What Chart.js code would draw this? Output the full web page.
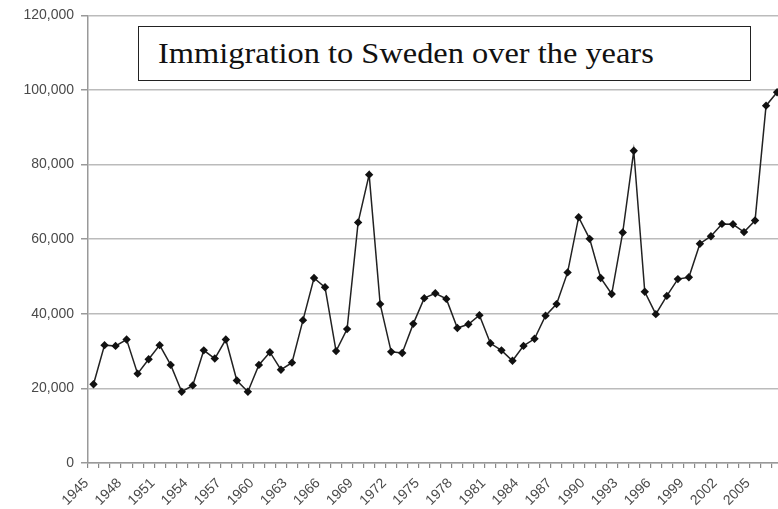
<!DOCTYPE html>
<html><head><meta charset="utf-8">
<script src="https://cdn.jsdelivr.net/npm/chart.js@4/dist/chart.umd.min.js"></script>
<style>
html,body{margin:0;padding:0;background:#fff;overflow:hidden;}
#wrap{position:relative;width:796px;height:509px;}
#c{display:block;}
#title{position:absolute;left:138px;top:26px;width:613px;height:55px;border:1.5px solid #222;background:#fff;font-family:"Liberation Serif","Times New Roman",serif;font-size:30px;line-height:52px;padding-left:19px;box-sizing:border-box;color:#111;white-space:nowrap;}
#title span{display:inline-block;transform:scaleX(1.08);transform-origin:left center;}
</style></head>
<body>
<div id="wrap"><canvas id="c" width="796" height="509" style="width:796px;height:509px"></canvas><div id="title"><span>Immigration to Sweden over the years</span></div></div>
<script>
const years = ['1945','1946','1947','1948','1949','1950','1951','1952','1953','1954','1955','1956','1957','1958','1959','1960','1961','1962','1963','1964','1965','1966','1967','1968','1969','1970','1971','1972','1973','1974','1975','1976','1977','1978','1979','1980','1981','1982','1983','1984','1985','1986','1987','1988','1989','1990','1991','1992','1993','1994','1995','1996','1997','1998','1999','2000','2001','2002','2003','2004','2005','2006','2007'];
const immigration = [21100,31600,31400,33100,23950,27800,31600,26300,19100,20800,30200,28000,33100,22100,19100,26300,29700,25000,26900,38300,49600,47100,30000,35900,64500,77300,42600,29800,29500,37300,44200,45500,44000,36200,37200,39600,32100,30200,27400,31400,33300,39500,42600,51100,65900,60100,49600,45300,61800,83700,45900,39900,44800,49300,49800,58800,60800,64100,64000,61900,65000,95800,99400];
const shownYearLabels = ['1945','1948','1951','1954','1957','1960','1963','1966','1969','1972','1975','1978','1981','1984','1987','1990','1993','1996','1999','2002','2005'];
const yTickValues = [0,20000,40000,60000,80000,100000,120000];

new Chart(document.getElementById('c'), {
  type: 'line',
  data: {
    labels: years,
    datasets: [{
      data: immigration,
      borderColor: '#222',
      borderWidth: 1.5,
      backgroundColor: '#111',
      pointStyle: 'rectRot',
      pointRadius: 4.2,
      pointBorderWidth: 0,
      pointBackgroundColor: '#111',
      tension: 0,
      fill: false
    }]
  },
  options: {
    responsive: false,
    animation: false,
    layout: { padding: { top: 15, right: 0, left: 0, bottom: 0 } },
    plugins: { legend: { display: false }, tooltip: { enabled: false } },
    scales: {
      x: {
        offset: true,
        grid: { drawOnChartArea: false, drawTicks: true, tickLength: 5, offset: true, color: '#888', lineWidth: 1.2 },
        border: { color: '#999', width: 1.5 },
        ticks: {
          autoSkip: false, minRotation: 45, maxRotation: 45,
          color: '#4a4a4a', padding: 7, labelOffset: -7,
          font: { family: 'Liberation Sans, Arial, sans-serif', size: 14 },
          callback: function(v, i) { const y = years[i]; return shownYearLabels.includes(y) ? y : ''; }
        },
        afterFit: function(s) { s.height = 46; }
      },
      y: {
        min: 0, max: 120000,
        afterBuildTicks: function(s) { s.ticks = yTickValues.map(v => ({ value: v })); },
        grid: { color: '#bbb', lineWidth: 1.5, tickLength: 7, tickColor: '#999' },
        border: { color: '#999', width: 1.5 },
        ticks: {
          color: '#4a4a4a', padding: 7,
          font: { family: 'Liberation Sans, Arial, sans-serif', size: 14 },
          callback: function(v) { return v.toLocaleString('en-US'); }
        },
        afterFit: function(s) { s.width = 88; }
      }
    }
  }
});
</script>
</body></html>
